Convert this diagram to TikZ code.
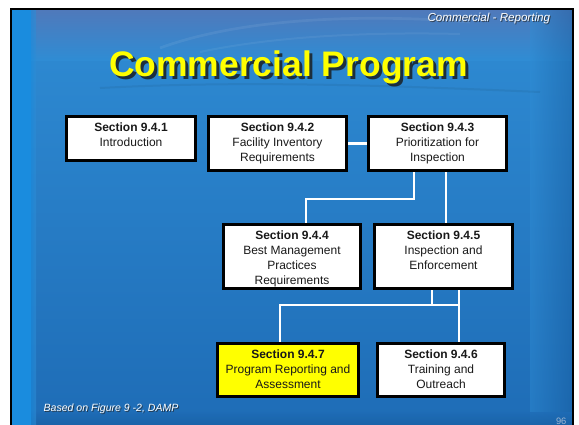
\documentclass[tikz,border=0pt]{standalone}
\usepackage{fontspec}
\setmainfont{Liberation Sans}
\usetikzlibrary{calc}
\pgfdeclarelayer{bg}
\pgfdeclarelayer{conn}
\pgfsetlayers{bg,conn,main}
\definecolor{bgtop}{HTML}{5079BA}
\definecolor{bgmid}{HTML}{2F8CD4}
\definecolor{bgbot}{HTML}{1E6CB6}
\definecolor{stripblue}{HTML}{1A8CDE}
\definecolor{edgeblue}{HTML}{175C9E}
\definecolor{titleyellow}{HTML}{FFFF00}
\definecolor{boxyellow}{HTML}{FFFF00}
\definecolor{pagenum}{HTML}{9FB6D2}
\newcommand{\sectext}[4]{\parbox[t][#2][t]{#1}{\centering\fontsize{9}{11.2}\selectfont\rule{0pt}{11.6pt}\textbf{#3}\\#4}}
\tikzset{
  secbox/.style={draw=black, line width=2.2pt, fill=white, inner sep=0pt, text=black!90},
  yelbox/.style={secbox, fill=boxyellow},
  link/.style={draw=white, line width=1.6pt},
  shadowtxt/.style={text=black!85, opacity=0.75},
}
\begin{document}
\begin{tikzpicture}[x=0.75pt,y=-0.75pt]
\clip (0,0) rectangle (579,425);
\useasboundingbox (0,0) rectangle (579,425);
\begin{pgfonlayer}{bg}
  \fill[white] (0,0) rectangle (579,425);
  \shade[top color=bgmid, bottom color=bgbot] (11,9) rectangle (573,430);
  \shade[top color=bgtop, bottom color=bgmid] (11,9) rectangle (573,60);
  \shade[left color=bgmid, right color=edgeblue, opacity=0.45] (530,9) rectangle (573,430);
  \shade[top color=bgbot, bottom color=edgeblue, opacity=0.8] (11,412) rectangle (573,430);
  \fill[stripblue] (11,9) rectangle (31,430);
  \shade[left color=stripblue, right color=bgmid, opacity=0.6] (31,9) rectangle (36,430);
  \draw[white, opacity=0.07, line width=2pt] (160,48) .. controls (250,15) and (380,15) .. (470,22);
  \draw[white, opacity=0.06, line width=1.5pt] (200,52) .. controls (280,35) and (380,32) .. (460,34);
  \draw[black, opacity=0.06, line width=1.5pt] (100,88) .. controls (250,80) and (400,86) .. (540,92);
  \draw[black, line width=1.8pt] (11,9) rectangle (573,440);
\end{pgfonlayer}

% header and footer texts
\node[shadowtxt, anchor=east, font=\fontsize{8.7}{10}\selectfont\itshape] (hdrs) at (555.8,19.2) {Commercial - Reporting};
\node[text=white, anchor=east, font=\fontsize{8.7}{10}\selectfont\itshape] (hdr) at (554.8,18.2) {Commercial - Reporting};
\node[shadowtxt, anchor=west, font=\fontsize{7.9}{10}\selectfont\itshape] (ftrs) at (40,410) {Based on Figure 9 -2, DAMP};
\node[text=white, anchor=west, font=\fontsize{7.9}{10}\selectfont\itshape] (ftr) at (39,409) {Based on Figure 9 -2, DAMP};
\node[text=pagenum, anchor=base east, font=\fontsize{7}{8}\selectfont, inner sep=1pt] (pnum) at (568,424) {96};

% title
\node[text=black!90, opacity=0.8, anchor=base, font=\fontsize{26.6}{30}\selectfont\bfseries] (titles) at (291.5,79) {Commercial Program};
\node[text=titleyellow, anchor=base, font=\fontsize{26.6}{30}\selectfont\bfseries] (title) at (288.5,76) {Commercial Program};

% boxes
\node[secbox] (b1) at (131,138.5) {\sectext{96.75pt}{33pt}{Section 9.4.1}{Introduction}};
\node[secbox] (b2) at (277.5,143.5) {\sectext{103.5pt}{40.5pt}{Section 9.4.2}{Facility Inventory\\Requirements}};
\node[secbox] (b3) at (437.5,143.5) {\sectext{103.5pt}{40.5pt}{Section 9.4.3}{Prioritization for\\Inspection}};
\node[secbox] (b4) at (292,256.5) {\sectext{102.75pt}{48pt}{Section 9.4.4}{Best Management\\Practices\\Requirements}};
\node[secbox] (b5) at (443.5,256.5) {\sectext{103.5pt}{48pt}{Section 9.4.5}{Inspection and\\Enforcement}};
\node[yelbox] (b7) at (288,370) {\sectext{105.75pt}{39.75pt}{Section 9.4.7}{Program Reporting and\\Assessment}};
\node[secbox] (b6) at (441,370) {\sectext{95.25pt}{39.75pt}{Section 9.4.6}{Training and\\Outreach}};

% junction points
\coordinate (k1) at (414,199);
\coordinate (k2) at (306,199);
\coordinate (j1) at (280,305);
\coordinate (j2) at (459,305);
\coordinate (j3) at (432,305);

\begin{pgfonlayer}{conn}
  \draw[link] (b2.east) -- (b3.west);
  \draw[link] (b3.south -| k1) -- (k1) -- (k2) -- (b4.north -| k2);
  \draw[link] (b3.south -| 446,0) -- (b5.north -| 446,0);
  \draw[link] (b5.south -| j3) -- (j3);
  \draw[link] (j2) -- (j1) -- (b7.north -| j1);
  \draw[link] (b5.south -| j2) -- (b6.north -| j2);
\end{pgfonlayer}
\end{tikzpicture}
\end{document}
